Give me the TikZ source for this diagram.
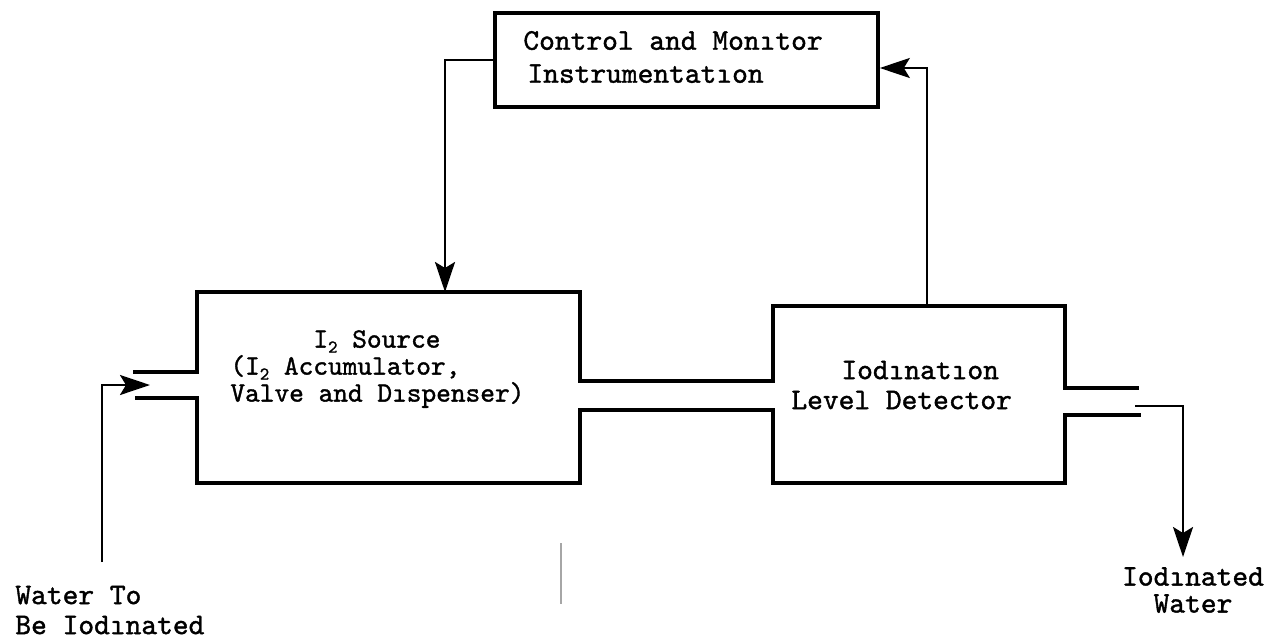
\documentclass[tikz,border=0pt]{standalone}
\usepackage{fontspec}
\newfontfamily\tw{lmmono10-regular.otf}[FakeBold=1.3]
\usetikzlibrary{arrows.meta}
\newcommand{\subtwo}{\raisebox{-2.5pt}[0pt][0pt]{\fontsize{9}{9}\selectfont 2}}
\begin{document}
\begin{tikzpicture}[x=0.5pt,y=-0.5pt,
  wall/.style={line width=1.8pt, line join=miter},
  conn/.style={line width=1.3pt},
  tip/.style={-{Stealth[length=15pt,width=10pt,inset=3pt]}},
  lbl/.style={font=\fontsize{15}{16.5}\selectfont\tw, inner sep=0pt},
  slbl/.style={font=\fontsize{14}{13.5}\selectfont\tw, inner sep=0pt},
  boxnode/.style={draw, line width=1.8pt, minimum width=191.5pt, minimum height=47pt, inner sep=0pt}
]
\useasboundingbox (0,0) rectangle (1272,643);

% control box
\node[boxnode] (ctrl) at (686.5,60) {};
\node[lbl, anchor=west, align=left] (ctext) at (523,57)
  {Control and Monıtor\\\hspace{2pt}Instrumentatıon};

% source and detector walls (with inlet / pipe / outlet openings)
\draw[wall] (133,372) -- (197,372) -- (197,292) -- (580,292) -- (580,381)
  -- (773,381) -- (773,306) -- (1065,306) -- (1065,388) -- (1139,388);
\draw[wall] (135,398) -- (197,398) -- (197,483) -- (580,483) -- (580,410)
  -- (773,410) -- (773,483) -- (1065,483) -- (1065,415) -- (1141,415);

% source text
\node[slbl, anchor=west, align=left] (stext) at (230,369)
  {\hspace{41.5pt}I\subtwo\ Source\\
   (I\subtwo\ Accumulator,\\
   Valve and Dıspenser)};

% detector text
\node[lbl, anchor=west, align=left, font=\fontsize{15}{15}\selectfont\tw] (dtext) at (791,385)
  {\hspace{25pt}Iodınatıon\\Level Detector};

% coordinates for connector ends
\coordinate (srctop) at (445,292);
\coordinate (dettop) at (927,306);
\coordinate (inbot) at (102,562);
\coordinate (inlet) at (150,385);
\coordinate (outstart) at (1135,406);
\coordinate (outend) at (1183,557);

% connectors
\draw[conn, tip] (ctrl.west) -| (srctop);
\draw[conn, tip] (dettop) |- ([yshift=-4pt]ctrl.east);
\draw[conn, tip] (inbot) |- (inlet);
\draw[conn, tip] (outstart) -| (outend);

% labels
\node[lbl, anchor=west, align=left, font=\fontsize{15}{15}\selectfont\tw] (inlbl) at (15,610) {Water To\\Be Iodınated};
\node[lbl, align=center, font=\fontsize{15}{13.5}\selectfont\tw] (outlbl) at (1193,590) {Iodınated\\Water};

% stray mark
\draw[gray!70, line width=0.8pt] (561,543) -- (561,604);
\end{tikzpicture}
\end{document}
